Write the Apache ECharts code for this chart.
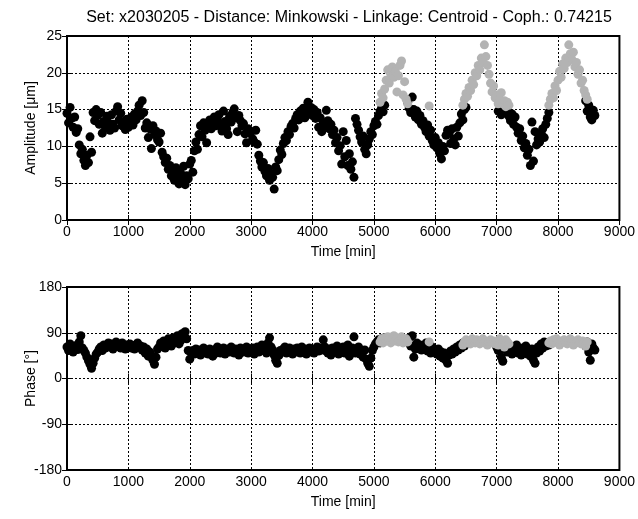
<!DOCTYPE html>
<html>
<head>
<meta charset="utf-8">
<script src="https://cdn.jsdelivr.net/npm/echarts@6/dist/echarts.min.js"></script>
<style>html,body{margin:0;padding:0;background:#fff}#c{width:638px;height:519px}</style>
</head>
<body>
<div id="c"></div>
<script>
// Sampling grid of the series (minutes between consecutive samples)
const sampleStep = 25;
const titleText = 'Set: x2030205 - Distance: Minkowski - Linkage: Centroid - Coph.: 0.74215';
const xTicks = [0, 1000, 2000, 3000, 4000, 5000, 6000, 7000, 8000, 9000];
const ampTicks = [0, 5, 10, 15, 20, 25];
const phaseTicks = [-180, -90, 0, 90, 180];

// Black cluster, amplitude [um], samples at t = 0, 25, ..., 8600
const blackAmp = [
14.5,13.2,15.3,13.8,12.6,14.0,11.9,12.4,10.2,9.0,9.6,8.1,7.4,8.8,7.8,11.3,9.2,14.6,13.5,15.0,
14.2,13.0,14.6,11.8,13.4,12.6,14.1,13.2,12.2,14.3,13.0,12.5,14.8,15.4,13.6,14.5,12.8,13.3,12.3,13.7,
12.6,13.5,14.0,12.9,14.4,13.6,14.8,15.6,14.2,16.2,14.6,12.5,13.2,11.2,12.4,9.7,12.8,11.6,12.1,10.9,
10.6,11.8,9.2,8.6,7.8,8.4,6.9,7.4,6.0,6.6,5.4,7.1,5.9,4.9,6.4,5.5,7.3,4.8,6.0,5.6,
7.6,8.1,6.5,9.4,10.6,9.6,11.6,12.8,11.3,13.2,12.2,10.5,12.6,13.6,12.4,13.1,14.0,12.8,13.6,14.3,
13.0,12.1,14.8,13.4,12.4,11.6,14.1,13.3,14.6,15.1,13.9,12.0,14.2,13.5,12.8,13.1,11.7,10.5,12.4,11.8,
12.0,11.0,10.6,12.2,10.3,8.8,8.0,7.2,7.8,6.6,6.0,7.0,5.4,6.3,5.8,4.2,7.2,6.7,8.2,9.5,
8.9,10.4,11.2,10.8,12.0,11.6,12.7,13.1,12.5,13.8,14.3,13.6,14.8,14.0,15.2,13.9,14.7,16.0,14.5,15.3,
14.2,15.0,13.8,14.6,12.6,13.9,12.0,13.2,12.8,14.9,13.5,12.4,13.0,11.6,12.2,10.5,11.2,9.4,10.1,7.6,
12.0,8.6,10.8,7.4,9.0,6.9,7.9,5.8,13.8,13.0,12.2,11.3,10.6,11.4,9.6,9.0,10.2,11.0,12.0,11.6,
12.8,13.4,13.0,14.2,14.8,15.2,14.7,15.6,null,null,null,null,null,null,null,null,null,null,null,null,
null,null,16.0,15.2,14.6,16.7,15.0,14.0,14.8,13.6,14.2,13.0,13.5,12.6,12.0,12.9,11.4,12.2,10.8,10.2,
11.2,9.8,10.5,9.0,8.3,10.0,9.4,11.5,12.2,11.8,10.4,12.4,11.0,10.2,12.6,11.4,13.2,14.4,13.6,15.0,
15.3,null,null,null,null,null,null,null,null,null,null,null,null,null,null,null,null,null,null,null,
16.6,14.8,15.8,14.3,15.2,16.0,14.6,15.4,14.1,13.5,14.4,13.0,14.0,12.6,11.8,12.4,10.8,11.4,9.8,10.4,
8.8,9.6,7.4,13.3,8.0,12.0,10.2,11.0,10.6,11.8,12.4,11.2,13.0,13.8,14.6,null,null,null,null,null,
null,null,null,null,null,null,null,null,null,null,null,null,null,null,null,null,null,null,16.2,14.8,
15.6,14.0,13.6,14.9,14.2
];
// Black cluster, phase [deg], same samples
const blackPhase = [
62,55,68,58,52,60,65,57,72,84,60,55,50,42,35,28,20,30,40,48,
52,58,62,55,66,60,64,70,62,68,58,65,72,63,67,60,70,64,58,66,
62,68,60,65,58,66,70,62,64,56,62,50,58,44,52,46,36,28,42,58,
62,70,66,74,60,68,78,72,64,80,70,76,84,68,74,88,82,92,78,55,
38,50,55,48,58,52,56,46,54,60,50,55,48,58,52,44,56,50,62,54,
50,56,60,48,54,58,52,62,56,50,58,54,46,60,55,52,58,62,50,56,
54,60,48,56,62,52,58,66,55,60,50,70,80,62,56,46,36,30,45,55,
52,58,62,50,56,60,54,48,58,52,60,56,50,62,55,58,48,54,60,52,
56,50,58,62,54,60,56,76,62,54,50,58,46,60,52,56,64,48,58,54,
62,50,58,66,44,56,60,82,50,58,62,48,54,42,56,38,30,24,40,55,
62,68,72,76,70,78,74,80,null,null,null,null,null,null,null,null,null,null,null,null,
null,null,72,80,64,84,42,58,70,62,66,56,64,58,70,54,60,50,62,56,
54,48,58,44,52,40,50,36,30,46,54,48,58,52,62,56,66,60,70,64,
72,null,null,null,null,null,null,null,null,null,null,null,null,null,null,null,null,null,null,null,
62,55,68,42,34,58,64,52,60,56,48,62,54,66,50,58,46,60,52,64,
48,56,44,58,36,30,50,62,54,68,60,72,64,70,66,null,null,null,null,null,
null,null,null,null,null,null,null,null,null,null,null,null,null,null,null,null,null,null,64,72,
52,36,68,60,56
];

// Gray cluster segments (start time, amplitude, phase)
const grayStarts = [5100, 5900, 6450, 7850];
const grayAmp1 = [16.0,17.2,16.6,17.8,19.0,20.4,18.6,19.8,20.8,19.4,20.2,17.4,19.6,21.0,21.6,17.0,18.8,16.4,15.8];
const grayPhase1 = [72,78,70,80,74,82,76,70,78,84,74,80,72,76,82,70,74,78,72];
const grayAmp2 = [15.5];
const grayPhase2 = [72];
const grayAmp3 = [15.6,16.4,17.2,16.8,18.0,17.6,19.0,18.4,20.0,19.6,21.0,20.4,22.0,21.4,23.8,22.2,21.0,19.8,18.6,17.4,18.2,16.6,17.0,15.8,16.4,17.3,15.8,16.2,15.4,16.0,15.6];
const grayPhase3 = [66,72,76,70,74,68,78,72,70,76,74,68,72,78,70,74,66,72,76,70,74,68,72,66,78,74,70,62,76,72,68];
const grayAmp4 = [15.6,16.4,17.2,16.6,18.2,17.6,19.0,20.2,19.4,21.2,20.6,22.0,21.4,23.8,22.6,21.8,22.8,20.8,21.4,19.8,20.4,18.6,19.0,17.6,17.0,16.4];
const grayPhase4 = [70,74,68,76,72,78,70,66,74,72,76,70,68,74,78,72,66,74,70,76,72,68,74,70,64,72];

function pairs(values, start) {
  const out = [];
  values.forEach((v, i) => { if (v !== null) out.push([start + i * sampleStep, v]); });
  return out;
}
const grayAmpSegs = [grayAmp1, grayAmp2, grayAmp3, grayAmp4];
const grayPhaseSegs = [grayPhase1, grayPhase2, grayPhase3, grayPhase4];
const grayAmpData = [].concat(...grayAmpSegs.map((s, k) => pairs(s, grayStarts[k])));
const grayPhaseData = [].concat(...grayPhaseSegs.map((s, k) => pairs(s, grayStarts[k])));

const FONT = 'Liberation Sans, Arial, sans-serif';
const FS = 14;
const BLACK = '#000000';
const GRAY = '#b3b3b3';

function xAx(grid, pos, labels) {
  return {
    type: 'value', gridIndex: grid, position: pos, min: xTicks[0], max: xTicks[xTicks.length - 1], interval: 1000,
    name: labels ? 'Time [min]' : '', nameLocation: 'middle', nameGap: 25, nameMoveOverlap: false,
    nameTextStyle: { fontFamily: FONT, fontSize: FS, color: '#000' },
    axisLine: { show: false },
    axisTick: { show: true, inside: true, length: 5, lineStyle: { color: '#000', width: 1 } },
    axisLabel: { show: labels, fontFamily: FONT, fontSize: FS, color: '#000', margin: 5, formatter: v => String(v) },
    splitLine: { show: labels, lineStyle: { color: '#000', type: [2, 2], width: 1 } }
  };
}
function yAx(grid, pos, ticks, interval, name, labels) {
  return {
    type: 'value', gridIndex: grid, position: pos, min: ticks[0], max: ticks[ticks.length - 1], interval: interval,
    name: labels ? name : '', nameLocation: 'middle', nameGap: 29, nameMoveOverlap: false,
    nameTextStyle: { fontFamily: FONT, fontSize: FS, color: '#000' },
    axisLine: { show: false },
    axisTick: { show: true, inside: true, length: 5, lineStyle: { color: '#000', width: 1 } },
    axisLabel: { show: labels, fontFamily: FONT, fontSize: FS, color: '#000', margin: 5, formatter: v => String(v) },
    splitLine: { show: labels, lineStyle: { color: '#000', type: [2, 2], width: 1 } }
  };
}
function sc(data, color, xi, yi) {
  return { type: 'scatter', data: data, xAxisIndex: xi, yAxisIndex: yi, symbol: 'circle', symbolSize: 9,
    itemStyle: { color: color, opacity: 1 }, silent: true, animation: false, clip: true };
}

const chart = echarts.init(document.getElementById('c'), null, { renderer: 'canvas' });
chart.setOption({
  animation: false,
  backgroundColor: '#fff',
  title: { text: titleText, left: 344, top: 5, textAlign: 'center',
    textStyle: { fontFamily: FONT, fontSize: 16, fontWeight: 'normal', color: '#000' } },
  grid: [
    { left: 67, top: 36, width: 553, height: 184, show: true, borderColor: '#000', borderWidth: 2, backgroundColor: 'transparent' },
    { left: 67, top: 287, width: 553, height: 183, show: true, borderColor: '#000', borderWidth: 2, backgroundColor: 'transparent' }
  ],
  xAxis: [xAx(0, 'bottom', true), xAx(0, 'top', false), xAx(1, 'bottom', true), xAx(1, 'top', false)],
  yAxis: [
    yAx(0, 'left', ampTicks, 5, 'Amplitude [\u03bcm]', true), yAx(0, 'right', ampTicks, 5, '', false),
    yAx(1, 'left', phaseTicks, 90, 'Phase [\u00b0]', true), yAx(1, 'right', phaseTicks, 90, '', false)
  ],
  series: [
    sc(pairs(blackAmp, 0), BLACK, 0, 0),
    sc(grayAmpData, GRAY, 0, 0),
    sc(pairs(blackPhase, 0), BLACK, 2, 2),
    sc(grayPhaseData, GRAY, 2, 2)
  ]
});
</script>
</body>
</html>
